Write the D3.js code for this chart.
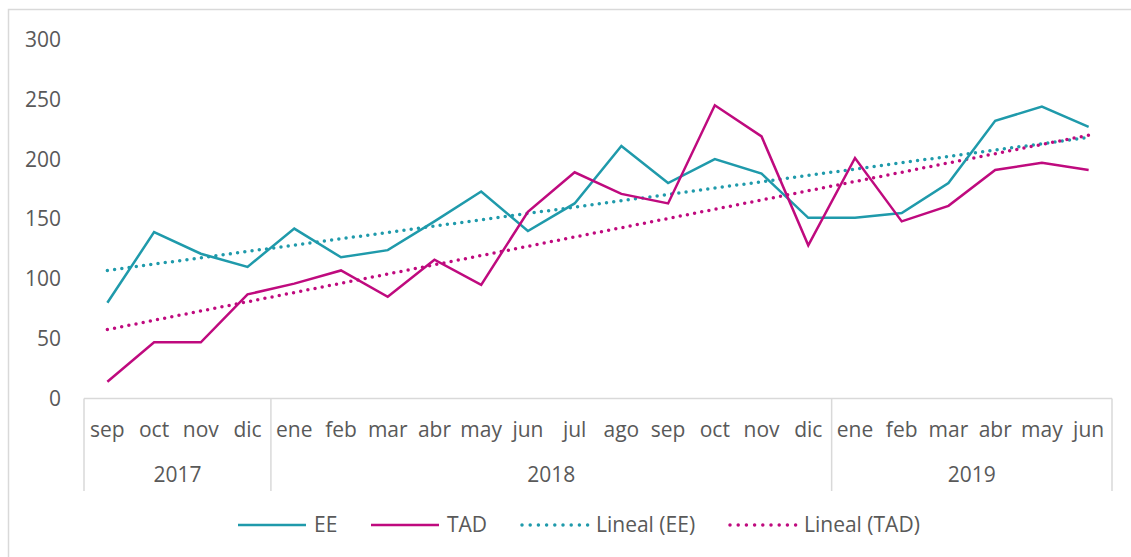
<!DOCTYPE html>
<html lang="es">
<head>
<meta charset="utf-8">
<title>EE y TAD</title>
<script src="https://d3js.org/d3.v7.min.js"></script>
<style>
  body { margin: 0; background: #fff; }
  svg text { font-family: "Open Sans", "Noto Sans", sans-serif; fill: #595959; }
</style>
</head>
<body>
<div id="chart"></div>
<script>
// months sep 2017 .. jun 2019
var months = ["sep","oct","nov","dic",
  "ene","feb","mar","abr","may","jun","jul","ago","sep","oct","nov","dic",
  "ene","feb","mar","abr","may","jun"];
var years = ["2017", "2018", "2019"];
var yearCounts = [4, 12, 6];

var ee  = [80, 139, 121, 110, 142, 118, 124, 148, 173, 140, 163, 211, 180, 200, 188, 151, 151, 155, 180, 232, 244, 227];
var tad = [14, 47, 47, 87, 96, 107, 85, 116, 95, 156, 189, 171, 163, 245, 219, 128, 201, 148, 161, 191, 197, 191];

var yTicks = [0, 50, 100, 150, 200, 250, 300];

var width = 1131, height = 557;
var tealC = "#1f9aab", magC = "#bf0a7e", gridC = "#d9d9d9";

var svg = d3.select("#chart").append("svg")
  .attr("width", width)
  .attr("height", height);

// chart frame (only left and top visible)
svg.append("path")
  .attr("d", "M8.5,560V9.5H1140")
  .attr("fill", "none")
  .attr("stroke", gridC)
  .attr("stroke-width", 1.5);

var idx = d3.range(months.length);
var x = d3.scaleBand().domain(idx).range([84, 1112]);
var y = d3.scaleLinear().domain([0, 300]).range([398.5, 39.5]);
var cx = function(i) { return x(i) + x.bandwidth() / 2; };

// y labels
svg.append("g").selectAll("text")
  .data(yTicks)
  .join("text")
  .attr("x", 61)
  .attr("y", d => y(d))
  .attr("dy", "0.35em")
  .attr("text-anchor", "end")
  .style("font-size", "21px")
  .text(d => d);

// category axis
var axisY = y(0);
svg.append("line")
  .attr("x1", 84).attr("x2", 1112)
  .attr("y1", axisY).attr("y2", axisY)
  .attr("stroke", gridC).attr("stroke-width", 1.5);

var starts = [0];
yearCounts.forEach(function(c, i) { starts.push(starts[i] + c); });

svg.append("g").selectAll("line")
  .data(starts)
  .join("line")
  .attr("x1", d => d < months.length ? x(d) : x(months.length - 1) + x.bandwidth())
  .attr("x2", d => d < months.length ? x(d) : x(months.length - 1) + x.bandwidth())
  .attr("y1", axisY)
  .attr("y2", 491)
  .attr("stroke", gridC).attr("stroke-width", 1.5);

svg.append("g").selectAll("text")
  .data(months)
  .join("text")
  .attr("x", (d, i) => cx(i))
  .attr("y", 430)
  .attr("dy", "0.35em")
  .attr("text-anchor", "middle")
  .style("font-size", "21px")
  .text(d => d);

svg.append("g").selectAll("text")
  .data(years)
  .join("text")
  .attr("x", (d, i) => (x(starts[i]) + x(starts[i + 1] - 1) + x.bandwidth()) / 2)
  .attr("y", 475)
  .attr("dy", "0.35em")
  .attr("text-anchor", "middle")
  .style("font-size", "21px")
  .text(d => d);

// linear trend (least squares, like Excel "Lineal")
function trend(vals) {
  var n = vals.length;
  var mx = d3.mean(idx), my = d3.mean(vals);
  var num = d3.sum(idx, i => (i - mx) * (vals[i] - my));
  var den = d3.sum(idx, i => (i - mx) * (i - mx));
  var b = num / den, a = my - b * mx;
  return [0, n - 1].map(i => [i, a + b * i]);
}

var line = d3.line().x(d => cx(d[0])).y(d => y(d[1]));

var series = [
  { name: "EE", vals: ee, color: tealC },
  { name: "TAD", vals: tad, color: magC }
];

series.forEach(function(s) {
  svg.append("path")
    .datum(trend(s.vals))
    .attr("d", line)
    .attr("fill", "none")
    .attr("stroke", s.color)
    .attr("stroke-width", 3.5)
    .attr("stroke-linecap", "round")
    .attr("stroke-dasharray", "0 7.3");
});

series.forEach(function(s) {
  svg.append("path")
    .datum(s.vals.map((v, i) => [i, v]))
    .attr("d", line)
    .attr("fill", "none")
    .attr("stroke", s.color)
    .attr("stroke-width", 2.5)
    .attr("stroke-linejoin", "miter");
});

// legend
var legend = [
  { label: "EE", color: tealC, x: 238, dotted: false },
  { label: "TAD", color: magC, x: 371, dotted: false },
  { label: "Lineal (EE)", color: tealC, x: 520, dotted: true },
  { label: "Lineal (TAD)", color: magC, x: 728, dotted: true }
];
var legY = 525;
var lg = svg.append("g").selectAll("g")
  .data(legend)
  .join("g");
lg.append("line")
  .attr("x1", d => d.x + (d.dotted ? 2 : 0))
  .attr("x2", d => d.x + 68)
  .attr("y1", legY).attr("y2", legY)
  .attr("stroke", d => d.color)
  .attr("stroke-width", d => d.dotted ? 3.5 : 2.5)
  .attr("stroke-linecap", d => d.dotted ? "round" : "butt")
  .attr("stroke-dasharray", d => d.dotted ? "0 8.2" : null);
lg.append("text")
  .attr("x", d => d.x + 76)
  .attr("y", legY)
  .attr("dy", "0.35em")
  .style("font-size", "21px")
  .text(d => d.label);
</script>
</body>
</html>
